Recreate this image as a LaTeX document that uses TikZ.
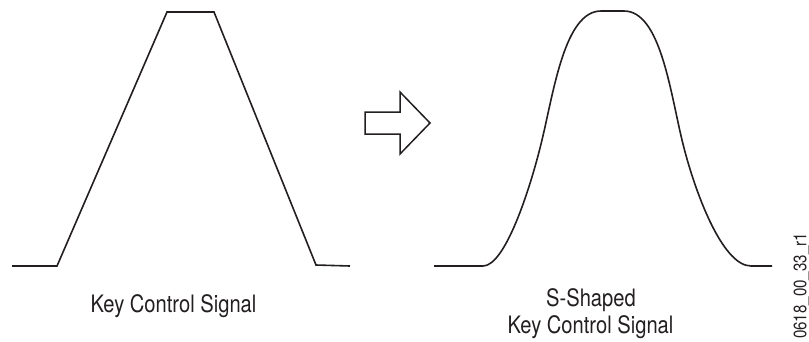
\documentclass[tikz,border=0pt]{standalone}
\usepackage{fontspec}
\setmainfont[FakeStretch=0.84]{TeX Gyre Heros}
\definecolor{ink}{HTML}{231F20}
\begin{document}
\begin{tikzpicture}[x=1pt,y=-1pt,
  sig/.style={draw=ink,line width=1.6pt,line join=miter},
  lbl/.style={text=ink,font=\fontsize{24}{27}\selectfont,inner sep=0pt,anchor=base},
  tag/.style={text=ink,font=\fontsize{18}{20}\selectfont,inner sep=0pt,rotate=90}]
\useasboundingbox (0,0) rectangle (809,341);
% trapezoid key signal
\draw[sig] (12,266) -- (57,266) -- (167,12) -- (214,12) -- (316,265) -- (350,266);
% hollow arrow
\draw[draw=ink,line width=1.5pt,line join=miter]
  (365,112) -- (400,112) -- (400,92) -- (430,123) -- (400,154) -- (400,134) -- (365,134) -- cycle;
% S-shaped signal
\draw[sig] (434,266) -- (483,266)
  .. controls (505,266) and (530,190) .. (542,140)
  .. controls (554,90) and (565,11) .. (601,11)
  -- (624,11)
  .. controls (660,11) and (670,90) .. (682,140)
  .. controls (694,190) and (722,266) .. (751,266)
  -- (772,266);
% labels
\node[lbl] (k1) at (173.5,312) {Key Control Signal};
\node[lbl] (s1) at (591,306) {S-Shaped};
\node[lbl] (s2) at (590.5,333) {Key Control Signal};
\node[tag] (id) at (801.5,286) {0618\_00\_33\_r1};
\end{tikzpicture}
\end{document}
